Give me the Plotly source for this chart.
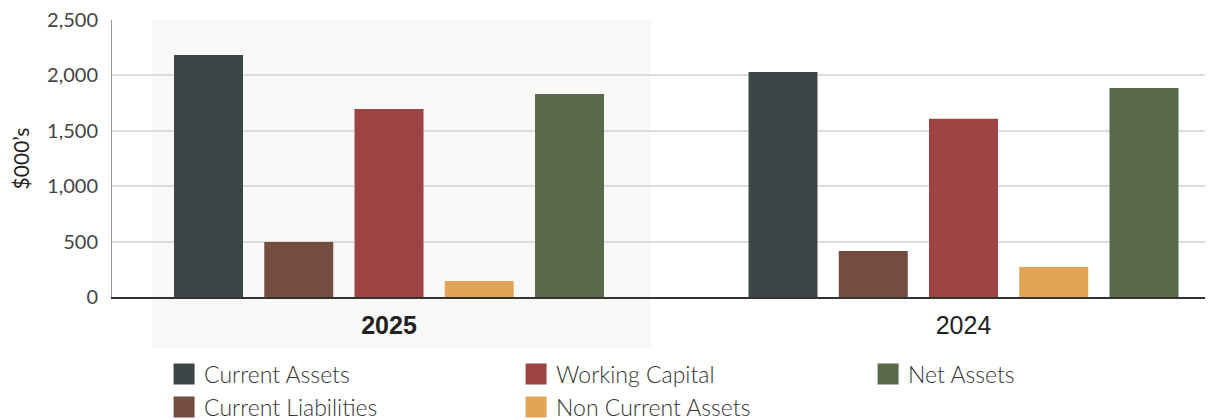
import plotly.graph_objects as go

years = ["2025", "2024"]
year_labels = ["<b>2025</b>", "2024"]
series_names = ["Current Assets", "Current Liabilities", "Working Capital", "Non Current Assets", "Net Assets"]
current_assets = [2184, 2031]
current_liabilities = [497, 415]
working_capital = [1697, 1608]
non_current_assets = [144, 271]
net_assets = [1832, 1886]
colors = ["#3d4547", "#744d40", "#9c4343", "#e2a457", "#5a684b"]
legend_order = ["Current Assets", "Working Capital", "Net Assets", "Current Liabilities", "Non Current Assets"]

values = [current_assets, current_liabilities, working_capital, non_current_assets, net_assets]
color_map = dict(zip(series_names, colors))

fig = go.Figure()
for name, vals, col in zip(series_names, values, colors):
    fig.add_trace(go.Bar(x=years, y=vals, name=name, marker=dict(color=col, line=dict(width=0)),
                         showlegend=False))

# legend entries (larger square swatches)
for name in legend_order:
    fig.add_trace(go.Scatter(x=[None], y=[None], mode="markers", name=name,
                             marker=dict(symbol="square", size=16, color=color_map[name],
                                         line=dict(width=5, color=color_map[name]))))

fig.add_shape(type="rect", xref="paper", yref="paper", x0=0.0363, x1=0.4896, y0=-0.184, y1=1,
              fillcolor="#f8f8f6", line=dict(width=0), layer="below")

fig.update_layout(
    width=1205, height=412,
    margin=dict(l=104, r=0, t=12, b=123, autoexpand=False),
    paper_bgcolor="white", plot_bgcolor="rgba(0,0,0,0)",
    barmode="group", bargap=0.2145, bargroupgap=0.2355,
    font=dict(family="Lato", color="#333333"),
    legend=dict(orientation="h", x=0.0473, xanchor="left", y=-0.2006, yanchor="top",
                font=dict(size=23, family="Lato", color="#333333", weight=300),
                entrywidth=307, entrywidthmode="pixels", itemsizing="trace",
                bgcolor="rgba(0,0,0,0)", traceorder="normal"),
    xaxis=dict(type="category", range=[-0.4822, 1.4343], tickmode="array", tickvals=years,
               ticktext=year_labels, showline=True, linecolor="#333333", linewidth=1.5,
               showgrid=False, ticks="", ticklabelstandoff=5,
               tickfont=dict(family="Liberation Sans", size=25, color="#222222")),
    yaxis=dict(range=[0, 2500], dtick=500, tickformat=",", showline=True, linecolor="#999999",
               linewidth=1, gridcolor="#dcdcdc", gridwidth=1.5, zeroline=False,
               ticks="", ticklabelstandoff=9, ticklabeloverflow="allow",
               tickfont=dict(family="Lato", size=20, color="#444444"),
               title=dict(text="$000’s", font=dict(family="Lato", size=21, color="#222222"), standoff=18)),
)

fig.write_html("out.html")
